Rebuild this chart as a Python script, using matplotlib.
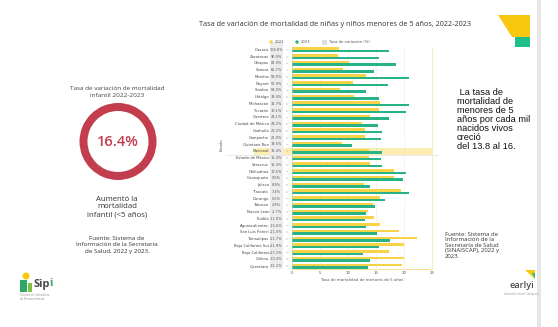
import numpy as np
import matplotlib
matplotlib.use("Agg")
import matplotlib.pyplot as plt
from matplotlib.patches import Rectangle, Wedge, Polygon, Circle

W, H = 558, 327

states = ["Oaxaca", "Zacatecas", "Chiapas", "Sonora", "Morelos", "Nayarit", "Sinaloa",
          "Hidalgo", "Michoacán", "Yucatán", "Guerrero", "Ciudad de México", "Coahuila",
          "Campeche", "Quintana Roo", "Nacional", "Estado de México", "Veracruz",
          "Chihuahua", "Guanajuato", "Jalisco", "Tlaxcala", "Durango", "Tabasco",
          "Nuevo León", "Puebla", "Aguascalientes", "San Luis Potosí", "Tamaulipas",
          "Baja California Sur", "Baja California", "Colima", "Querétaro"]
tasa_2022 = [8.4, 8.2, 10.2, 9.1, 13.2, 10.9, 8.6, 11.1, 15.8, 15.6, 13.9, 12.5, 13.1,
             13.0, 8.9, 13.8, 13.8, 13.9, 18.3, 18.2, 12.9, 19.5, 15.7, 14.4, 13.5, 14.6,
             15.7, 19.1, 22.3, 20.0, 17.3, 20.0, 19.6]
tasa_2023 = [17.3, 15.5, 18.6, 14.7, 20.9, 17.1, 13.2, 15.5, 20.9, 20.4, 17.3, 15.3, 16.0,
             15.9, 10.7, 16.0, 15.9, 16.0, 20.3, 19.8, 14.0, 20.9, 16.6, 14.8, 13.2, 13.0,
             13.2, 15.1, 17.5, 15.5, 12.6, 13.9, 13.5]
variacion = [104.8, 90.9, 82.9, 61.7, 58.5, 57.9, 54.0, 39.4, 31.7, 30.1, 24.1, 23.2, 22.2,
             22.0, 19.5, 16.4, 15.4, 15.3, 10.5, 9.0, 8.9, 7.4, 5.5, 2.8, -2.7, -11.0,
             -15.6, -21.0, -21.7, -21.9, -27.2, -30.4, -31.2]
x_ticks = [0, 5, 10, 15, 20, 25]

YELLOW = "#F8D348"
GREEN = "#27B287"
RED = "#C23E4E"


def fx(x):
    return x / W


def fy(y):
    return 1 - y / H


fig = plt.figure(figsize=(W / 100, H / 100), dpi=100)
fig.patch.set_facecolor("white")

# slide edge on the right
fig.add_artist(Rectangle((fx(537), 0), fx(4), 1, transform=fig.transFigure,
                         facecolor="#e6e6e6", edgecolor="none"))

fig.text(fx(335), fy(25), "Tasa de variación de mortalidad de niñas y niños menores de 5 años, 2022-2023",
         ha="center", va="center", fontsize=5.2, family="Open Sans", color="#333333")

# corner mark
fig.add_artist(Polygon([(fx(498), fy(15)), (fx(530), fy(15)), (fx(530), fy(37)), (fx(512), fy(37))],
                       closed=True, transform=fig.transFigure, facecolor="#F9C80E", edgecolor="none"))
fig.add_artist(Polygon([(fx(515), fy(37)), (fx(530), fy(37)), (fx(530), fy(47)), (fx(515), fy(47))],
                       closed=True, transform=fig.transFigure, facecolor="#1DBF8A", edgecolor="none"))

# ---- bar chart ----
n = len(states)
top, bottom = 46.6, 269.4
ax = fig.add_axes([fx(292), fy(bottom), fx(432) - fx(292), (bottom - top) / H])
y = np.arange(n)
bh = 0.37
ax.barh(y - bh / 2, tasa_2022, height=bh, color=YELLOW, zorder=3)
ax.barh(y + bh / 2, tasa_2023, height=bh, color=GREEN, zorder=3)
ax.set_xlim(0, 25)
ax.set_ylim(n - 0.5, -0.5)
ax.set_xticks(x_ticks)
ax.set_xticklabels([str(t) for t in x_ticks], fontsize=2.8, color="#555555")
ax.tick_params(axis="x", length=0, pad=1.5)
ax.set_yticks([])
ax.grid(axis="x", linestyle=(0, (1, 1.5)), color="#d0d0d0", linewidth=0.4, zorder=0)
for s in ["top", "left"]:
    ax.spines[s].set_visible(False)
ax.spines["bottom"].set_color("#f5dc8a")
ax.spines["bottom"].set_linewidth(0.6)
ax.spines["right"].set_color("#f5e6b0")
ax.spines["right"].set_linewidth(0.5)
ax.axvline(0, color="#9fd9c3", linewidth=0.4, zorder=4)
ax.set_xlabel("Tasa de mortalidad de menores de 5 años", fontsize=2.8, color="#555555", labelpad=1.5)

# value column background
ax.add_patch(Rectangle(((270 - 292) / 5.6, -1.2), 13 / 5.6, n + 0.7, facecolor="#ececec",
                       edgecolor="none", clip_on=False, zorder=1))

nat = states.index("Nacional")
ax.add_patch(Rectangle((-6.8, nat - 0.5), 31.8, 1.0, facecolor="#FDEDB3", edgecolor="none",
                       clip_on=False, zorder=0.5))
ax.plot([-11.7, 26], [nat + 0.5, nat + 0.5], color="#dddddd", linewidth=0.4, clip_on=False, zorder=2)

for i, st in enumerate(states):
    ax.text(-4.1, i, st, ha="right", va="center", fontsize=2.7, color="#444444", clip_on=False)
    ax.text(-2.77, i, f"{variacion[i]:.1f}%", ha="center", va="center", fontsize=2.5,
            color="#555555", clip_on=False, zorder=2)
    ax.text(-0.8, i, f"{tasa_2022[i]:.0f}\n{tasa_2023[i]:.0f}", ha="center", va="center",
            fontsize=1.6, color="#8fcfb5", linespacing=0.9, clip_on=False, zorder=2)
ax.text(-12.6, 14, "Estado", rotation=90, ha="center", va="center", fontsize=2.6,
        color="#555555", clip_on=False)

# legend row
ly = fy(42)
fig.add_artist(Circle((271 / 100, (H - 42) / 100), 0.017, transform=fig.dpi_scale_trans,
                      facecolor=YELLOW, edgecolor="none"))
fig.text(fx(275), ly, "2022", fontsize=2.7, va="center", color="#555555")
fig.add_artist(Circle((297 / 100, (H - 42) / 100), 0.017, transform=fig.dpi_scale_trans,
                      facecolor=GREEN, edgecolor="none"))
fig.text(fx(301), ly, "2023", fontsize=2.7, va="center", color="#555555")
fig.add_artist(Rectangle((fx(322), fy(44.5)), fx(5), 5 / H, transform=fig.transFigure,
                         facecolor="#dddddd", edgecolor="none"))
fig.text(fx(329), ly, "Tasa de variación (%)", fontsize=2.7, va="center", color="#555555")

# ---- left panel ----
fig.text(fx(117), fy(92), "Tasa de variación de mortalidad\ninfantil 2022-2023", ha="center",
         va="center", fontsize=4.6, family="Open Sans", color="#444444", linespacing=1.3)
fig.add_artist(Wedge((1.18, (H - 141.5) / 100), 0.385, 0, 360, width=0.08,
                     transform=fig.dpi_scale_trans, facecolor=RED, edgecolor="none"))
fig.text(fx(118), fy(141.5), "16.4%", ha="center", va="center", fontsize=10.5,
         family="Open Sans", fontweight="semibold", color=RED)
fig.text(fx(117), fy(207), "Aumentó la\nmortalidad\ninfantil (<5 años)", ha="center",
         va="center", fontsize=5.6, family="Open Sans", color="#333333", linespacing=1.15)
fig.text(fx(117), fy(245), "Fuente: Sistema de\nInformación de la Secretaria\nde Salud, 2022 y 2023.",
         ha="center", va="center", fontsize=4.5, family="Open Sans", color="#333333",
         linespacing=1.3)

# ---- right panel ----
fig.text(fx(457), fy(88), " La tasa de\nmortalidad de\nmenores de 5\naños por cada mil\nnacidos vivos\ncreció\ndel 13.8 al 16.",
         ha="left", va="top", fontsize=6.7, family="Liberation Sans", color="#111111",
         linespacing=1.0)
fig.text(fx(445), fy(232), "Fuente: Sistema de\nInformación de la\nSecretaría de Salud\n(SINAISCAP), 2022 y\n2023.",
         ha="left", va="top", fontsize=4.3, family="Open Sans", color="#333333",
         linespacing=1.1)

# earlyi mark
fig.text(fx(522), fy(286), "earlyi", ha="center", va="center", fontsize=6.6,
         family="Open Sans", fontweight="semibold", color="#4a4a4a")
fig.add_artist(Polygon([(fx(525), fy(270)), (fx(535), fy(270)), (fx(535), fy(279))],
                       closed=True, transform=fig.transFigure, facecolor="#F9C80E", edgecolor="none"))
fig.add_artist(Polygon([(fx(532), fy(273)), (fx(535), fy(273)), (fx(535), fy(279))],
                       closed=True, transform=fig.transFigure, facecolor="#1DBF8A", edgecolor="none"))
fig.text(fx(522), fy(294), "desarrollo infantil temprano", ha="center", va="center",
         fontsize=1.8, color="#999999")

# Sipi mark
fig.add_artist(Circle((0.26, (H - 276) / 100), 0.035, transform=fig.dpi_scale_trans,
                      facecolor="#F9C80E", edgecolor="none"))
fig.add_artist(Rectangle((fx(20), fy(292)), fx(7), 12 / H, transform=fig.transFigure,
                         facecolor="#2FA866", edgecolor="none"))
fig.add_artist(Rectangle((fx(28), fy(292)), fx(4), 9 / H, transform=fig.transFigure,
                         facecolor="#7FC241", edgecolor="none"))
fig.text(fx(33), fy(284), "Sip", ha="left", va="center", fontsize=8, family="Open Sans",
         fontweight="bold", color="#4a4a4a")
fig.text(fx(49.5), fy(284), "i", ha="left", va="center", fontsize=8, family="Open Sans",
         fontweight="bold", color="#2FA866")
fig.text(fx(20), fy(297), "Sistema de Indicadores\nde Primera Infancia", ha="left", va="center",
         fontsize=1.8, color="#888888", linespacing=1.0)

fig.savefig("out.png", dpi=100, facecolor="white")
